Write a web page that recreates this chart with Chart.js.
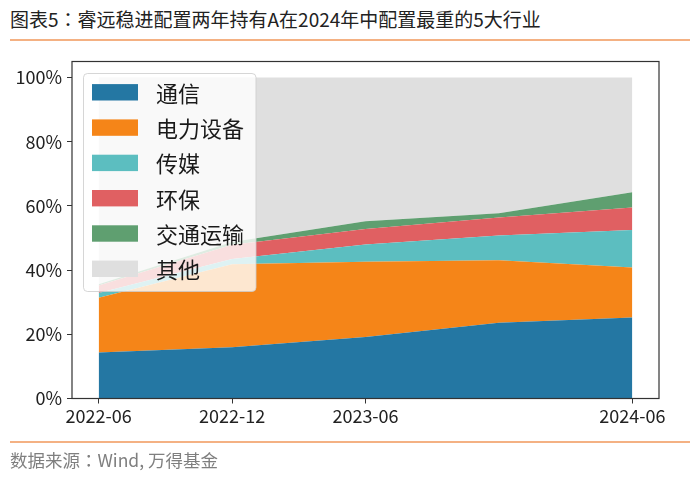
<!DOCTYPE html>
<html><head><meta charset="utf-8">
<script src="https://cdn.jsdelivr.net/npm/chart.js@4"></script>
<style>
html,body{margin:0;padding:0;background:#fff;}
#wrap{position:relative;width:700px;height:480px;overflow:hidden;font-family:"Noto Sans CJK SC","Noto Sans",sans-serif;}
#title{position:absolute;left:10px;top:6px;font-size:19px;color:#222;line-height:26px;white-space:nowrap;}
.rule{position:absolute;left:10px;width:680px;height:2px;background:#F4B183;}
#src{position:absolute;left:10px;top:449px;font-size:17.5px;color:#7f7f7f;line-height:22px;white-space:nowrap;}
.colon{font-family:"Noto Sans CJK TC","Noto Sans CJK SC",sans-serif;}
#cv{position:absolute;left:0;top:0;}
</style></head><body>
<div id="wrap">
<div id="title">图表5<span class="colon">：</span>睿远稳进配置两年持有A在2024年中配置最重的5大行业</div>
<div class="rule" style="top:39px"></div>
<canvas id="cv" width="700" height="480"></canvas>
<div class="rule" style="top:441px"></div>
<div id="src">数据来源<span class="colon">：</span>Wind, 万得基金</div>
</div>
<script>
const periods = ['2022-06','2022-12','2023-06','2023-12','2024-06'];
const periodMonths = [0, 6, 12, 18, 24];
const xTickMonths = [0, 6, 12, 24];
const yTickValues = [0, 20, 40, 60, 80, 100];
const seriesNames = ['通信','电力设备','传媒','环保','交通运输','其他'];
const telecom    = [14.3, 16.0, 19.2, 23.6, 25.2];
const powerEquip = [17.1, 25.8, 23.4, 19.5, 15.6];
const media      = [1.5, 1.7, 5.4, 7.7, 11.7];
const envProt    = [2.3, 4.4, 4.8, 5.6, 7.0];
const transport  = [0.4, 0.9, 2.4, 1.3, 4.8];
const others     = [64.4, 51.2, 44.8, 42.3, 35.7];
const seriesValues = [telecom, powerEquip, media, envProt, transport, others];
const seriesColors = ['#2477a3','#f58518','#5cbec0','#e06062','#5f9f70','#dfdfdf'];

const datasets = seriesNames.map((name, i) => ({
  label: name,
  data: seriesValues[i].map((v, j) => ({x: periodMonths[j], y: v})),
  backgroundColor: seriesColors[i],
  borderColor: seriesColors[i],
  borderWidth: 0,
  pointRadius: 0,
  tension: 0,
  fill: i === 0 ? 'origin' : '-1'
}));

const legendPlugin = {
  id: 'boxLegend',
  afterDatasetsDraw(chart) {
    const ctx = chart.ctx;
    ctx.save();
    ctx.beginPath();
    ctx.roundRect(83.5, 73.5, 172.5, 218, 4);
    ctx.fillStyle = 'rgba(255,255,255,0.8)';
    ctx.fill();
    ctx.strokeStyle = 'rgba(204,204,204,0.8)';
    ctx.lineWidth = 1;
    ctx.stroke();
    chart.data.datasets.forEach((ds, i) => {
      const cy = 92.3 + i * 35.3;
      ctx.fillStyle = ds.backgroundColor;
      ctx.fillRect(92, cy - 8.2, 46, 16.4);
      ctx.fillStyle = '#1a1a1a';
      ctx.font = '22px "Noto Sans CJK SC"';
      ctx.textBaseline = 'middle';
      ctx.fillText(ds.label, 156, cy + 1);
    });
    ctx.restore();
  }
};
const framePlugin = {
  id: 'frame',
  afterDraw(chart) {
    const a = chart.chartArea, ctx = chart.ctx;
    ctx.save();
    ctx.strokeStyle = '#333';
    ctx.lineWidth = 1.2;
    ctx.strokeRect(a.left, a.top, a.right - a.left, a.bottom - a.top);
    ctx.restore();
  }
};

new Chart(document.getElementById('cv'), {
  type: 'line',
  data: { datasets },
  plugins: [legendPlugin, framePlugin],
  options: {
    responsive: false,
    animation: false,
    layout: { padding: { top: 61.5, right: 41, left: 0, bottom: 0 } },
    plugins: { legend: { display: false }, tooltip: { enabled: false } },
    scales: {
      x: {
        type: 'linear', min: -1.2, max: 25.2,
        afterFit(s) { s.height = 81.5; },
        afterBuildTicks(s) { s.ticks = xTickMonths.map(v => ({value: v})); },
        ticks: {
          padding: 2, color: '#222',
          font: { family: '"Noto Sans CJK SC"', size: 18 },
          callback: (v) => periods[periodMonths.indexOf(v)],
          maxRotation: 0, autoSkip: false
        },
        grid: { display: true, drawOnChartArea: false, drawTicks: true, tickLength: 5, color: '#333' },
        border: { display: false }
      },
      y: {
        stacked: true, min: 0, max: 105,
        afterFit(s) { s.width = 72; },
        afterBuildTicks(s) { s.ticks = yTickValues.map(v => ({value: v})); },
        ticks: {
          padding: 5, color: '#222',
          font: { family: '"Noto Sans CJK SC"', size: 18 },
          callback: (v) => v + '%'
        },
        grid: { display: true, drawOnChartArea: false, drawTicks: true, tickLength: 5, color: '#333' },
        border: { display: false }
      }
    }
  }
});
</script>
</body></html>
